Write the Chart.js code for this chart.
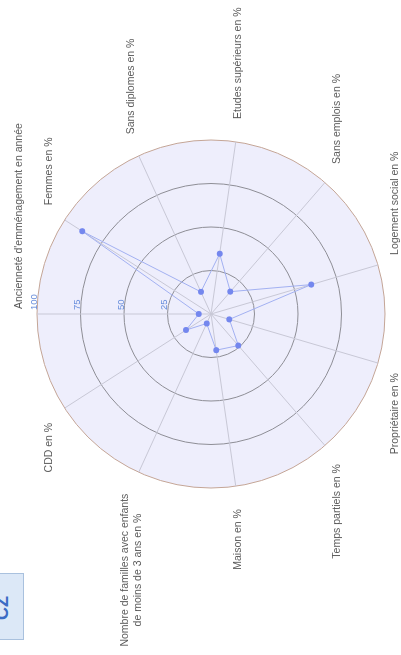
<!DOCTYPE html>
<html>
<head>
<meta charset="utf-8">
<script src="https://cdn.jsdelivr.net/npm/chart.js@4"></script>
<style>
  html, body { margin: 0; padding: 0; background: #fff; overflow: hidden; }
  body { width: 401px; height: 655px; position: relative; }
  /* the whole chart is drawn in landscape, then turned a quarter to the left */
  #frame {
    position: absolute; left: 0; top: 0;
    width: 655px; height: 401px;
    transform-origin: 0 0;
    transform: translate(0, 655px) rotate(-90deg);
  }
  #tab {
    position: absolute; left: 15px; top: -20px; width: 67px; height: 44px;
    background: #dce8f7; border: 1px solid #a9c1de; box-sizing: border-box;
    overflow: hidden;
  }
  #tab span {
    position: absolute; left: 19px; top: 11px;
    font: bold 18px "Liberation Sans", Arial, sans-serif; color: #3b6cc4;
  }
  #wrap { position: absolute; left: 0; top: 0; width: 655px; height: 401px; }
</style>
</head>
<body>
<div id="frame">
  <div id="tab"><span>CZ</span></div>
  <div id="wrap"><canvas id="radar"></canvas></div>
</div>
<script>
// ── Data ──────────────────────────────────────────────────────
const AXES = [
  "Ancienneté d'emménagement en année",
  'Femmes en %',
  'Sans diplomes en %',
  'Etudes supérieurs en %',
  'Sans emplois en %',
  'Logement social en %',
  'Propriétaire en %',
  'Temps partiels en %',
  'Maison en %',
  ['Nombre de familles avec enfants', 'de moins de 3 ans en %'],
  'CDD en %',
];
const VALUES = [7, 88, 14, 35, 17, 60, 11, 24, 21, 6, 17];
const TICKS  = [25, 50, 75, 100];

const LABEL_FONT = '10.5px "Liberation Sans", Arial, sans-serif';
const TICK_FONT  = '9.5px "Liberation Sans", Arial, sans-serif';
const LABEL_COLOR = '#5a5a5a';
const TICK_COLOR  = '#6a8fdc';

// ── Plugin: lavender disc behind the grid ─────────────────────
const discBg = {
  id: 'discBg',
  beforeDraw(chart) {
    const s = chart.scales.r, ctx = chart.ctx;
    ctx.save();
    ctx.beginPath();
    ctx.arc(s.xCenter, s.yCenter, s.getDistanceFromCenterForValue(100), 0, Math.PI * 2);
    ctx.fillStyle = '#eeeefc';
    ctx.fill();
    ctx.restore();
  },
};

// ── Plugin: axis names and tick numbers ───────────────────────
const radarText = {
  id: 'radarText',
  afterDraw(chart) {
    const s = chart.scales.r, ctx = chart.ctx;
    ctx.save();
    ctx.font = LABEL_FONT;
    ctx.fillStyle = LABEL_COLOR;
    ctx.textBaseline = 'middle';
    AXES.forEach((lab, i) => {
      const p = s.getPointPosition(i, s.drawingArea + 18);
      const lines = Array.isArray(lab) ? lab : [lab];
      const w = Math.max(...lines.map(l => ctx.measureText(l).width));
      const right = p.x >= s.xCenter - 1;
      const left = right ? p.x + 5 : p.x - 5 - w;
      const lh = 13;
      const y0 = p.y - (lines.length - 1) * lh / 2;
      ctx.textAlign = 'center';
      lines.forEach((l, k) => ctx.fillText(l, left + w / 2, y0 + k * lh));
    });

    ctx.font = TICK_FONT;
    ctx.fillStyle = TICK_COLOR;
    ctx.textAlign = 'left';
    TICKS.forEach(t => {
      const r = s.getDistanceFromCenterForValue(t);
      ctx.fillText(String(t), s.xCenter + 4, s.yCenter - r - 3);
    });
    ctx.restore();
  },
};

new Chart(document.getElementById('radar').getContext('2d'), {
  type: 'radar',
  data: {
    labels: AXES,
    datasets: [{
      data: VALUES,
      borderColor: '#a3b1f2',
      borderWidth: 1,
      backgroundColor: 'transparent',
      fill: false,
      pointRadius: 3,
      pointBackgroundColor: '#7487ee',
      pointBorderColor: '#7487ee',
      pointBorderWidth: 0,
    }],
  },
  options: {
    responsive: true,
    maintainAspectRatio: false,
    animation: false,
    layout: { padding: { left: 27, right: 0, top: 37, bottom: 16 } },
    plugins: { legend: { display: false }, tooltip: { enabled: false } },
    scales: {
      r: {
        min: 0,
        max: 100,
        ticks: { stepSize: 25, display: false },
        pointLabels: { display: false },
        grid: {
          circular: true,
          color: (c) => c.index === TICKS.length ? '#c4a596' : '#8e8e96',
          lineWidth: 1,
        },
        angleLines: { color: '#c8c8d6', lineWidth: 1 },
      },
    },
  },
  plugins: [discBg, radarText],
});
</script>
</body>
</html>
